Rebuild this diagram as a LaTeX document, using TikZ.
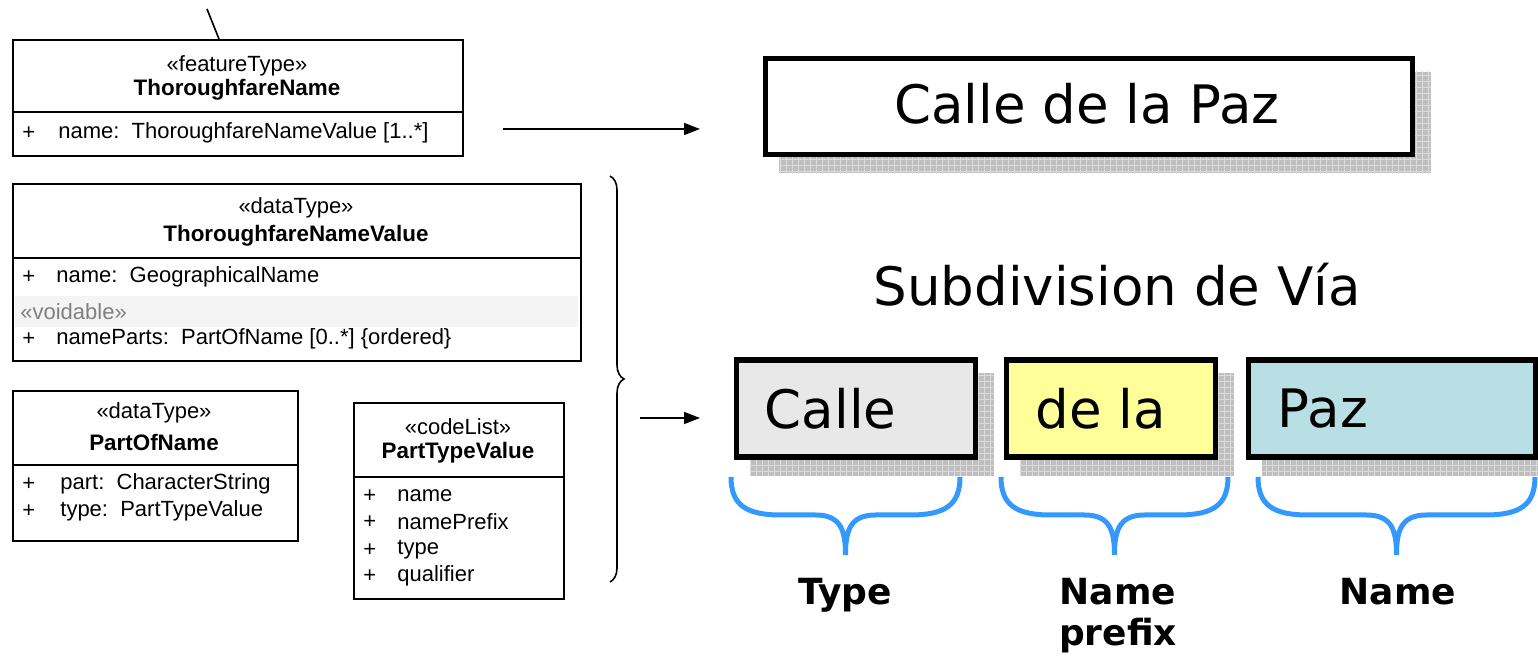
\documentclass[tikz,border=0pt]{standalone}
\usepackage{fontspec}
\setmainfont{DejaVu Sans}
\newfontfamily\umlfont{Liberation Sans}
\usetikzlibrary{arrows.meta,decorations.pathreplacing,patterns,backgrounds}

\definecolor{callegray}{HTML}{E8E8E8}
\definecolor{delayellow}{HTML}{FFFF99}
\definecolor{pazblue}{HTML}{B8E0E4}
\definecolor{bracecol}{HTML}{3399FF}

\tikzset{
  umlbox/.style={draw, line width=0.9pt, inner sep=0pt, anchor=north west},
  umltext/.style={font=\umlfont\fontsize{11}{12}\selectfont, inner sep=0pt},
  umltitle/.style={font=\umlfont\bfseries\fontsize{11.2}{12}\selectfont, inner sep=0pt},
  umlrow/.style={umltext, anchor=west},
  namebox/.style={draw, line width=2.6pt, inner sep=0pt, anchor=north west},
  shadowfill/.style={fill=gray!50, postaction={pattern=grid, pattern color=gray!28}},
  bigtext/.style={font=\fontsize{26.5}{30}\selectfont, inner sep=0pt},
  parttext/.style={font=\bfseries\fontsize{18}{22}\selectfont, inner sep=0pt, anchor=base},
  partbrace/.style={draw=bracecol, line width=2.5pt},
  link/.style={line width=0.8pt, -{Triangle[length=8pt,width=6pt]}},
}

\begin{document}
\begin{tikzpicture}[x=0.5pt, y=-0.5pt]
\useasboundingbox (0,0) rectangle (1538,657);

% UML classes
\node[umlbox, minimum width=225pt, minimum height=58pt] (tfn) at (12,39) {};
\draw[line width=0.9pt] (12,112) -- (462,112);
\node[umltext] (tfnst) at (237,66) {«featureType»};
\node[umltitle] (tfnnm) at (237,90) {ThoroughfareName};
\node[umlrow] (tfnp1) at (22,133) {+};
\node[umlrow] (tfna1) at (58,133) {name:\ \ ThoroughfareNameValue [1..*]};
\coordinate (tfntop) at (219,39);
\coordinate (up) at (207,9);
\draw[line width=0.8pt] (tfntop) -- (up);

\fill[gray!9] (15,296) rectangle (578,327);
\node[umlbox, minimum width=284pt, minimum height=88.5pt] (tfnv) at (12,183) {};
\draw[line width=0.9pt] (12,258) -- (580,258);
\node[umltext] (tfnvst) at (296,208) {«dataType»};
\node[umltitle] (tfnvnm) at (296,236) {ThoroughfareNameValue};
\node[umlrow] (tfnvp1) at (22,277) {+};
\node[umlrow] (tfnva1) at (56,277) {name:\ \ GeographicalName};
\node[umlrow, text=gray] (tfnvvd) at (20,312) {«voidable»};
\node[umlrow] (tfnvp2) at (22,339) {+};
\node[umlrow] (tfnva2) at (56,339) {nameParts:\ \ PartOfName [0..*] \{ordered\}};

\node[umlbox, minimum width=142.5pt, minimum height=75pt] (pon) at (12,390) {};
\draw[line width=0.9pt] (12,465) -- (297,465);
\node[umltext] (ponst) at (154,413) {«dataType»};
\node[umltitle] (ponnm) at (154,442) {PartOfName};
\node[umlrow] (ponp1) at (22,484) {+};
\node[umlrow] (pona1) at (60,484) {part:\ \ CharacterString};
\node[umlrow] (ponp2) at (22,511) {+};
\node[umlrow] (pona2) at (60,511) {type:\ \ PartTypeValue};

\node[umlbox, minimum width=105pt, minimum height=98pt] (ptv) at (353,402) {};
\draw[line width=0.9pt] (353,477) -- (563,477);
\node[umltext] (ptvst) at (458,427) {«codeList»};
\node[umltitle] (ptvnm) at (458,453) {PartTypeValue};
\foreach \t/\y in {name/496, namePrefix/522, type/550, qualifier/576}{
  \node[umlrow] (ptvp\y) at (363,\y) {+};
  \node[umlrow] (ptva\y) at (397,\y) {\t};
}

% brace and arrows
\draw[line width=0.8pt, decorate, decoration={brace, amplitude=7pt}] (610,176) -- (610,582);
\coordinate (l1a) at (503,129);
\coordinate (l1b) at (700,129);
\draw[link] (l1a) -- (l1b);
\coordinate (l2a) at (640,418);
\coordinate (l2b) at (700,418);
\draw[link] (l2a) -- (l2b);

% example names
\node[namebox, fill=white, minimum width=323.5pt, minimum height=48pt] (cdlp) at (763,56) {};
\node[bigtext] (cdlptxt) at (1087,104) {Calle de la Paz};
\node[bigtext] (subdiv) at (1117,285) {Subdivision de Vía};

\node[namebox, fill=callegray, minimum width=119.5pt, minimum height=48.5pt] (calle) at (733.5,357.5) {};
\node[namebox, fill=delayellow, minimum width=104.5pt, minimum height=48.5pt] (dela) at (1003.5,357.5) {};
\node[namebox, fill=pazblue, minimum width=143.5pt, minimum height=48.5pt] (paz) at (1245.5,357.5) {};
\node[bigtext, anchor=west] (calletxt) at ([xshift=15.5pt]calle.west) {Calle};
\node[bigtext, anchor=west] (delatxt) at ([xshift=16pt]dela.west) {de la};
\node[bigtext, anchor=west] (paztxt) at ([xshift=16pt]paz.west) {Paz};

\begin{scope}[on background layer]
\foreach \b in {cdlp, calle, dela, paz}{
  \path[shadowfill] ([shift={(8pt,-8pt)}]\b.south west) rectangle ([shift={(8pt,-8pt)}]\b.north east);
}
\end{scope}

% part braces
\foreach \a/\c in {731/960, 1001/1228, 1258/1535}{
  \pgfmathsetmacro\m{(\a+\c)/2}
  \draw[partbrace] (\a,477) .. controls (\a,505) and (\a+15,515) .. (\a+50,515)
    -- (\m-30,515) .. controls (\m-5,515) and (\m,530) .. (\m,555)
    .. controls (\m,530) and (\m+5,515) .. (\m+30,515)
    -- (\c-50,515) .. controls (\c-15,515) and (\c,505) .. (\c,477);
}
\node[parttext] (typelbl) at (845,605) {Type};
\node[parttext] (prefixlbl) at (1118,605) {Name};
\node[parttext] (prefixlbl2) at (1118,646) {prefix};
\node[parttext] (namelbl) at (1398,605) {Name};
\end{tikzpicture}
\end{document}
